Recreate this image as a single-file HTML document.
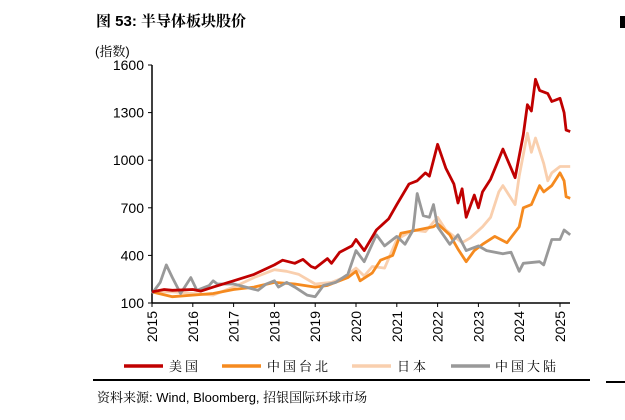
<!DOCTYPE html>
<html><head><meta charset="utf-8"><style>
body{margin:0;background:#fff;width:625px;height:415px;overflow:hidden;font-family:"Liberation Sans","Noto Serif CJK SC",sans-serif}
</style></head><body>
<svg width="625" height="415" xmlns="http://www.w3.org/2000/svg" font-family="Liberation Sans, Noto Serif CJK SC, serif">
<text x="96" y="26" font-size="15" font-weight="bold" fill="#000">图 53: 半导体板块股价</text>
<rect x="620" y="16" width="5" height="12" fill="#000"/>
<text x="95" y="56" font-size="13" fill="#000">(指数)</text>
<g id="axes"></g>
<g id="series"></g>
<g font-size="13" letter-spacing="3">
<line x1="124" y1="366" x2="163" y2="366" stroke="#c00000" stroke-width="3.5"/><text x="169" y="371">美国</text>
<line x1="222" y1="366" x2="261" y2="366" stroke="#f58a1f" stroke-width="3.5"/><text x="267" y="371">中国台北</text>
<line x1="352" y1="366" x2="391" y2="366" stroke="#f9cfae" stroke-width="3.5"/><text x="397" y="371">日本</text>
<line x1="451" y1="366" x2="490" y2="366" stroke="#999999" stroke-width="3.5"/><text x="495" y="371">中国大陆</text>
</g>
<line x1="93" y1="380" x2="590" y2="380" stroke="#000" stroke-width="2"/>
<line x1="606" y1="382" x2="625" y2="382" stroke="#000" stroke-width="2"/>
<text x="97" y="402" font-size="13">资料来源: Wind, Bloomberg, 招银国际环球市场</text>
</svg>
<script>
const yTicks=[100,400,700,1000,1300,1600];
const years=[2015,2016,2017,2018,2019,2020,2021,2022,2023,2024,2025];
const usT=[2015,2015.3,2015.5,2016,2016.2,2016.5,2017,2017.5,2018,2018.2,2018.5,2018.7,2018.9,2019,2019.3,2019.4,2019.6,2019.9,2020,2020.2,2020.5,2020.8,2021,2021.3,2021.5,2021.7,2021.8,2022,2022.2,2022.4,2022.5,2022.6,2022.7,2022.9,2023,2023.1,2023.3,2023.6,2023.9,2024.1,2024.2,2024.3,2024.4,2024.5,2024.7,2024.8,2024.9,2025,2025.1,2025.15,2025.25];
const usV=[170,185,180,185,175,200,240,280,340,370,350,375,330,320,380,350,420,460,500,430,560,630,720,850,870,920,900,1100,950,850,730,820,640,780,700,800,880,1070,890,1160,1350,1310,1510,1440,1420,1370,1380,1390,1300,1190,1180];
const twT=[2015,2015.5,2016,2016.5,2017,2017.5,2018,2018.5,2019,2019.3,2019.8,2020,2020.1,2020.4,2020.6,2020.9,2021.1,2021.5,2021.9,2022,2022.3,2022.5,2022.7,2022.9,2023.1,2023.4,2023.7,2024,2024.1,2024.3,2024.5,2024.6,2024.8,2025,2025.1,2025.15,2025.25];
const twV=[170,140,150,160,185,200,230,220,200,210,260,300,240,290,370,400,540,560,580,600,530,440,360,430,470,520,480,580,700,720,840,800,840,920,870,770,760];
const jpT=[2015,2015.5,2016,2016.5,2017,2017.5,2018,2018.3,2018.6,2019,2019.4,2019.7,2020,2020.2,2020.4,2020.7,2021,2021.4,2021.7,2022,2022.2,2022.4,2022.6,2022.8,2023.1,2023.3,2023.5,2023.6,2023.9,2024,2024.2,2024.3,2024.4,2024.6,2024.7,2024.8,2025,2025.25];
const jpV=[170,170,160,150,200,260,310,300,280,220,230,260,320,270,330,320,500,560,550,640,560,520,480,510,580,640,800,840,720,900,1170,1050,1140,980,870,920,960,960];
const cnT=[2015,2015.2,2015.35,2015.5,2015.7,2015.95,2016.1,2016.4,2016.5,2016.6,2017,2017.3,2017.6,2017.8,2018,2018.1,2018.3,2018.5,2018.8,2019,2019.2,2019.5,2019.8,2020,2020.2,2020.5,2020.7,2021,2021.2,2021.4,2021.5,2021.65,2021.8,2021.9,2022,2022.3,2022.5,2022.7,2023,2023.2,2023.6,2023.8,2024,2024.1,2024.5,2024.6,2024.8,2025,2025.1,2025.25];
const cnV=[160,230,340,260,160,260,180,210,240,220,220,200,180,220,240,200,230,200,150,140,210,230,280,430,360,530,460,520,470,560,790,650,640,720,580,470,530,430,460,430,410,420,300,350,360,340,500,500,560,530];
const NS='http://www.w3.org/2000/svg';
const X=t=>152+(t-2015)*40.8, Y=v=>303-(v-100)/1500*238;
function mk(tag,at,parent){const e=document.createElementNS(NS,tag);for(const k in at)e.setAttribute(k,at[k]);parent.appendChild(e);return e;}
const ax=document.getElementById('axes');
let yl=mk('line',{x1:152,y1:Y(1600),x2:152,y2:303,stroke:'#000','stroke-width':1.5},ax);


let xl=mk('line',{x1:152,y1:303,x2:570,y2:303,stroke:'#000','stroke-width':1.5},ax);


yTicks.forEach(v=>{mk('line',{x1:148,y1:Y(v),x2:152,y2:Y(v),stroke:'#000'},ax);
const t=mk('text',{x:144,y:Y(v)+5,'text-anchor':'end','font-size':14},ax);t.textContent=v;

});
years.forEach(y=>{mk('line',{x1:X(y),y1:303,x2:X(y),y2:307,stroke:'#000'},ax);
const t=mk('text',{x:0,y:0,'text-anchor':'end','font-size':14,transform:`translate(${X(y)+5},311) rotate(-90)`},ax);t.textContent=y;

});
const sg=document.getElementById('series');
[[jpT,jpV,'#f9cfae','series-japan'],[twT,twV,'#f58a1f','series-taiwan'],[cnT,cnV,'#999999','series-china'],[usT,usV,'#c00000','series-us']].forEach(([T,V,c,n])=>{
const p=mk('polyline',{points:T.map((t,i)=>X(t).toFixed(1)+','+Y(V[i]).toFixed(1)).join(' '),fill:'none',stroke:c,'stroke-width':2.8,'stroke-linejoin':'round'},sg);

});
</script>
</body></html>
